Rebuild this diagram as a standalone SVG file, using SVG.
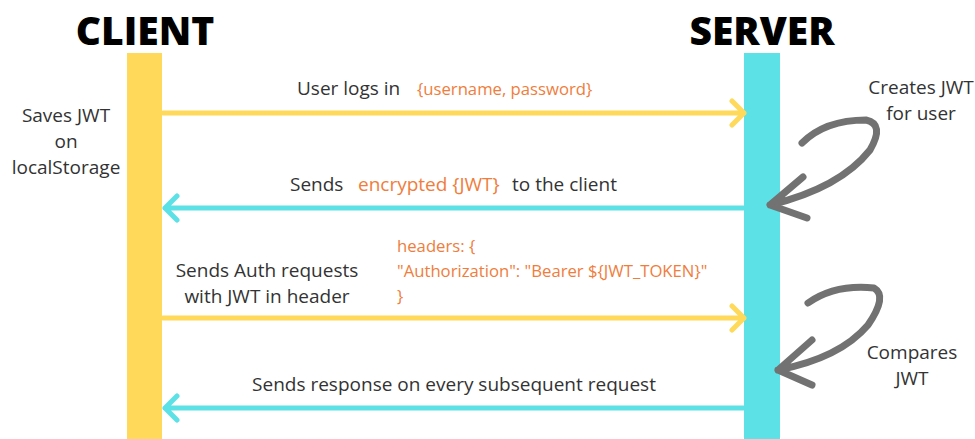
<svg xmlns="http://www.w3.org/2000/svg" width="975" height="439" viewBox="0 0 975 439">
<style>
.t{font-family:"Open Sans","Liberation Sans",sans-serif;font-size:19px;fill:#333}
.o{fill:#EF7D3C}
.s{font-size:16.7px}
.h{font-family:"Open Sans","Liberation Sans",sans-serif;font-size:39px;font-weight:800;fill:#000}
.y{stroke:#FFD95A;stroke-width:5;fill:none;stroke-linecap:round;stroke-linejoin:round}
.c{stroke:#5CE1E6;stroke-width:5;fill:none;stroke-linecap:round;stroke-linejoin:round}
.g{stroke:#727272;stroke-width:7;fill:none;stroke-linecap:round;stroke-linejoin:round}
</style>
<rect width="975" height="439" fill="#fff"/>
<g id="client">
<text class="h" x="145" y="45" text-anchor="middle">CLIENT</text>
<rect x="127" y="53" width="35" height="386" fill="#FFD95A"/>
<text class="t" x="66" y="122" text-anchor="middle">Saves JWT</text>
<text class="t" x="66" y="148" text-anchor="middle">on</text>
<text class="t" x="66" y="174" text-anchor="middle">localStorage</text>
</g>
<g id="server">
<text class="h" x="762" y="45" text-anchor="middle">SERVER</text>
<rect x="744" y="53" width="36" height="386" fill="#5CE1E6"/>
<text class="t" x="921" y="94" text-anchor="middle">Creates JWT</text>
<text class="t" x="921" y="120" text-anchor="middle">for user</text>
<text class="t" x="912" y="359" text-anchor="middle">Compares</text>
<text class="t" x="912" y="385" text-anchor="middle">JWT</text>
</g>
<g id="connectors">
<path class="y" d="M163,113 H744 M732,101 L744,113 L732,125"/>
<path class="c" d="M744,208 H165 M177,196 L165,208 L177,220"/>
<path class="y" d="M163,318 H744 M732,306 L744,318 L732,330"/>
<path class="c" d="M744,408 H165 M177,396 L165,408 L177,420"/>
<path class="g" d="M802,143 Q825,120 866,120 Q885,124 870,150 Q840,188 770,205 M803,177 L770,205 L807,218"/>
<path class="g" d="M808,303 Q835,284 874,288 Q888,296 868,325 Q840,358 778,370 M812,340 L778,370 L812,385"/>
</g>
<g id="labels">
<text class="t" x="297" y="95">User logs in <tspan class="o s" x="417">{username, password}</tspan></text>
<text class="t" x="290" y="191">Sends <tspan class="o" x="358">encrypted {JWT}</tspan><tspan x="512">to the client</tspan></text>
<text class="t" x="267" y="277" text-anchor="middle">Sends Auth requests</text>
<text class="t" x="267" y="303" text-anchor="middle">with JWT in header</text>
<text class="t o s" x="397" y="252">headers: {</text>
<text class="t o s" x="397" y="277">"Authorization": "Bearer ${JWT_TOKEN}"</text>
<text class="t o s" x="397" y="302">}</text>
<text class="t" x="454" y="391" text-anchor="middle">Sends response on every subsequent request</text>
</g>
</svg>
